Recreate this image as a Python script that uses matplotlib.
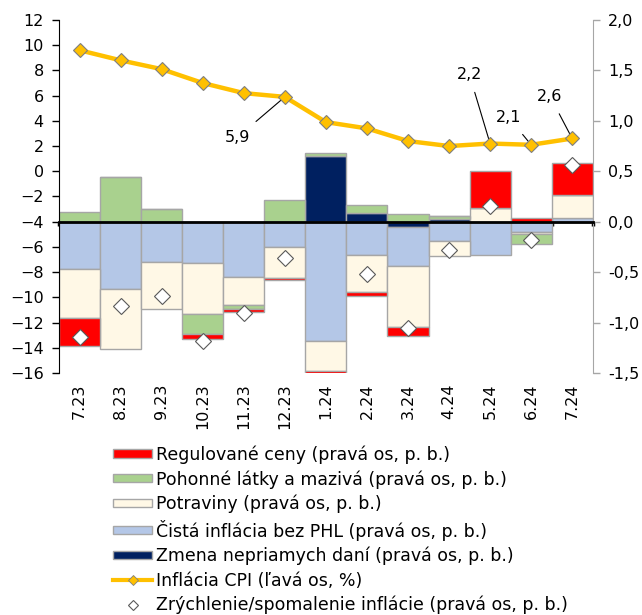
import numpy as np
import matplotlib.pyplot as plt
from matplotlib.patches import Patch
from matplotlib.lines import Line2D

plt.rcParams['font.family'] = ['DejaVu Sans']

dates = ['7.23', '8.23', '9.23', '10.23', '11.23', '12.23', '1.24',
         '2.24', '3.24', '4.24', '5.24', '6.24', '7.24']

# inflacia CPI (lava os, %)
cpi = [9.6, 8.8, 8.1, 7.0, 6.2, 5.9, 3.9, 3.4, 2.4, 2.0, 2.2, 2.1, 2.6]

# prispevky (prava os, p. b.)
zmena_dani = [0, 0, 0, 0, 0, 0, 0.65, 0.09, -0.05, 0.03, 0, 0, 0]
cista_inf = [-0.47, -0.67, -0.40, -0.41, -0.55, -0.25, -1.18, -0.33, -0.39, -0.19, -0.33, -0.10, 0.04]
potraviny = [-0.48, -0.59, -0.47, -0.51, -0.28, -0.31, -0.30, -0.37, -0.60, -0.15, 0.14, -0.02, 0.22]
pohonne = [0.10, 0.44, 0.13, -0.19, -0.04, 0.22, 0.03, 0.08, 0.08, 0.03, 0, -0.10, 0]
regulovane = [-0.28, 0, 0, -0.05, -0.03, -0.02, -1.20, -0.04, -0.09, 0, 0.36, 0.04, 0.32]
zrychlenie = [-1.14, -0.84, -0.74, -1.18, -0.91, -0.36, -2.0, -0.52, -1.05, -0.28, 0.16, -0.18, 0.56]

labels = ['Regulované ceny (pravá os, p. b.)',
          'Pohonné látky a mazivá (pravá os, p. b.)',
          'Potraviny (pravá os, p. b.)',
          'Čistá inflácia bez PHL (pravá os, p. b.)',
          'Zmena nepriamych daní (pravá os, p. b.)',
          'Inflácia CPI (ľavá os, %)',
          'Zrýchlenie/spomalenie inflácie (pravá os, p. b.)']

c_red = '#FF0000'
c_green = '#A9D18E'
c_cream = '#FFF8E6'
c_blue = '#B4C7E7'
c_navy = '#002060'
c_orange = '#FFC000'
edge = '#A6A6A6'

fig = plt.figure(figsize=(6.42, 6.15), dpi=100)
ax = fig.add_axes([0.092, 0.3935, 0.8312, 0.574])
x = np.arange(len(dates))

# stlpce - poradie od osi: dane, cista inflacia, potraviny, PHL, regulovane
stack = [(zmena_dani, c_navy), (cista_inf, c_blue), (potraviny, c_cream),
         (pohonne, c_green), (regulovane, c_red)]
pos = np.zeros(len(dates))
neg = np.zeros(len(dates))
for vals, col in stack:
    v = np.array(vals, dtype=float)
    bottom = np.where(v >= 0, pos, neg)
    ax.bar(x, v, width=1.0, bottom=bottom, color=col, edgecolor=edge, linewidth=1.0, zorder=2)
    pos = pos + np.where(v > 0, v, 0)
    neg = neg + np.where(v < 0, v, 0)

ax.plot(x, zrychlenie, linestyle='none', marker='D', markersize=8.5,
        markerfacecolor='white', markeredgecolor='#595959', markeredgewidth=0.8, zorder=4)

ax.set_xlim(-0.5, len(dates) - 0.5)
ax.set_ylim(-1.5, 2.0)
for s in ['top', 'left']:
    ax.spines[s].set_visible(False)
ax.spines['right'].set_color('#A6A6A6')
ax.spines['bottom'].set_position(('data', 0))
ax.spines['bottom'].set_linewidth(2)
ax.spines['bottom'].set_zorder(3)
ax.set_xticks(np.arange(-0.5, len(dates), 1.0))
ax.set_xticklabels([])
ax.tick_params(axis='x', length=3, width=2.5, direction='out', color='black')
for i, d in enumerate(dates):
    ax.text(i, -0.03, d, transform=ax.get_xaxis_transform(), rotation=90,
            ha='center', va='top', fontsize=11.5)

# inflacia CPI na lavej osi
ax2 = ax.twinx()
ax2.set_ylim(-16, 12)
ax2.yaxis.tick_left()
ax2.set_yticks(np.arange(-16, 13, 2))
ax2.tick_params(axis='y', labelsize=11.5, length=5, width=1, pad=6)
for s in ['top', 'right', 'bottom']:
    ax2.spines[s].set_visible(False)
ax2.spines['left'].set_color('black')
ax2.plot(x, cpi, color=c_orange, linewidth=3.2, marker='D', markersize=7.5,
         markerfacecolor=c_orange, markeredgecolor='#7F7F7F', markeredgewidth=0.8, zorder=5)

# prava os (po twinx, aby zostala vpravo)
ax.yaxis.tick_right()
ax.yaxis.set_label_position('right')
rt = np.arange(-1.5, 2.01, 0.5)
ax.set_yticks(rt)
ax.set_yticklabels([f'{t:.1f}'.replace('.', ',') for t in rt])
ax.tick_params(axis='y', labelcolor='black', color='#A6A6A6', labelsize=11.5,
               length=5, width=1, pad=6)

notes = [(5, (-34, -29)), (10, (-15, 50)), (11, (-16, 19.5)), (12, (-16, 30.5))]
for i, off in notes:
    ax2.annotate(f'{cpi[i]:.1f}'.replace('.', ','), xy=(x[i], cpi[i]), xytext=off,
                 textcoords='offset points', ha='center', va='center', fontsize=11.5,
                 arrowprops=dict(arrowstyle='-', color='black', lw=0.8, shrinkA=6, shrinkB=0))

handles = [Patch(facecolor=c_red, edgecolor=edge),
           Patch(facecolor=c_green, edgecolor=edge),
           Patch(facecolor=c_cream, edgecolor=edge),
           Patch(facecolor=c_blue, edgecolor=edge),
           Patch(facecolor=c_navy, edgecolor=edge),
           Line2D([], [], color=c_orange, lw=3, marker='D', markersize=5,
                  markerfacecolor=c_orange, markeredgecolor='#7F7F7F', markeredgewidth=0.6),
           Line2D([], [], linestyle='none', marker='D', markersize=5,
                  markerfacecolor='white', markeredgecolor='#595959', markeredgewidth=0.8)]
fig.legend(handles, labels, loc='upper left', bbox_to_anchor=(0.176, 0.276),
           frameon=False, fontsize=12.5, handlelength=2.25, handleheight=0.35,
           handletextpad=0.25, labelspacing=0.36, borderpad=0, borderaxespad=0)

fig.savefig('out.png', dpi=100)
